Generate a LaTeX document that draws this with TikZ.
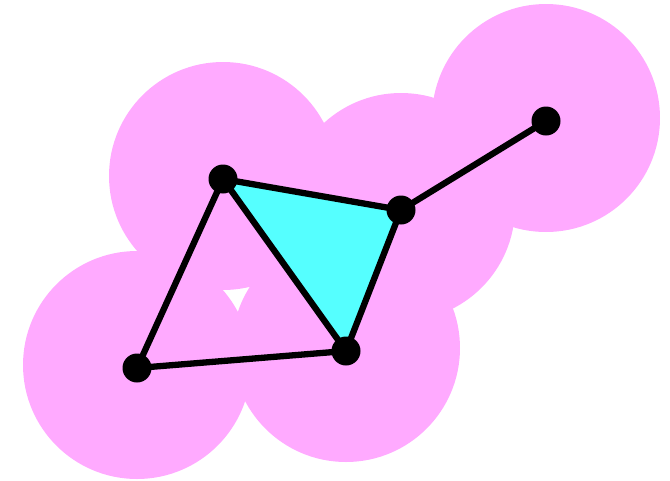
\documentclass[tikz,border=0pt]{standalone}
\definecolor{diskpink}{RGB}{255,170,255}
\definecolor{facecyan}{RGB}{85,255,255}
\tikzset{
  disk/.style={fill=diskpink, draw=none},
  vert/.style={circle, fill=black, inner sep=0pt, minimum size=29pt},
  edge/.style={line width=6.3pt, black},
  face/.style={fill=facecyan, draw=none}
}
\begin{document}
\begin{tikzpicture}[x=1pt,y=-1pt]
\useasboundingbox (0,0) rectangle (670,480);
\coordinate (pA) at (223,179);
\coordinate (pB) at (401,210);
\coordinate (pC) at (546,121);
\coordinate (pD) at (137,368);
\coordinate (pE) at (346,351);
\foreach \p in {pA,pB,pC,pD,pE} \fill[disk] ([yshift=3pt]\p) circle (114);
\fill[face] (pA) -- (pB) -- (pE) -- cycle;
\draw[edge] (pA) -- (pB);
\draw[edge] (pB) -- (pC);
\draw[edge] (pA) -- (pE);
\draw[edge] (pB) -- (pE);
\draw[edge] (pA) -- (pD);
\draw[edge] (pD) -- (pE);
\node[vert] (A) at (pA) {};
\node[vert] (B) at (pB) {};
\node[vert] (C) at (pC) {};
\node[vert] (D) at (pD) {};
\node[vert] (E) at (pE) {};
\end{tikzpicture}
\end{document}
